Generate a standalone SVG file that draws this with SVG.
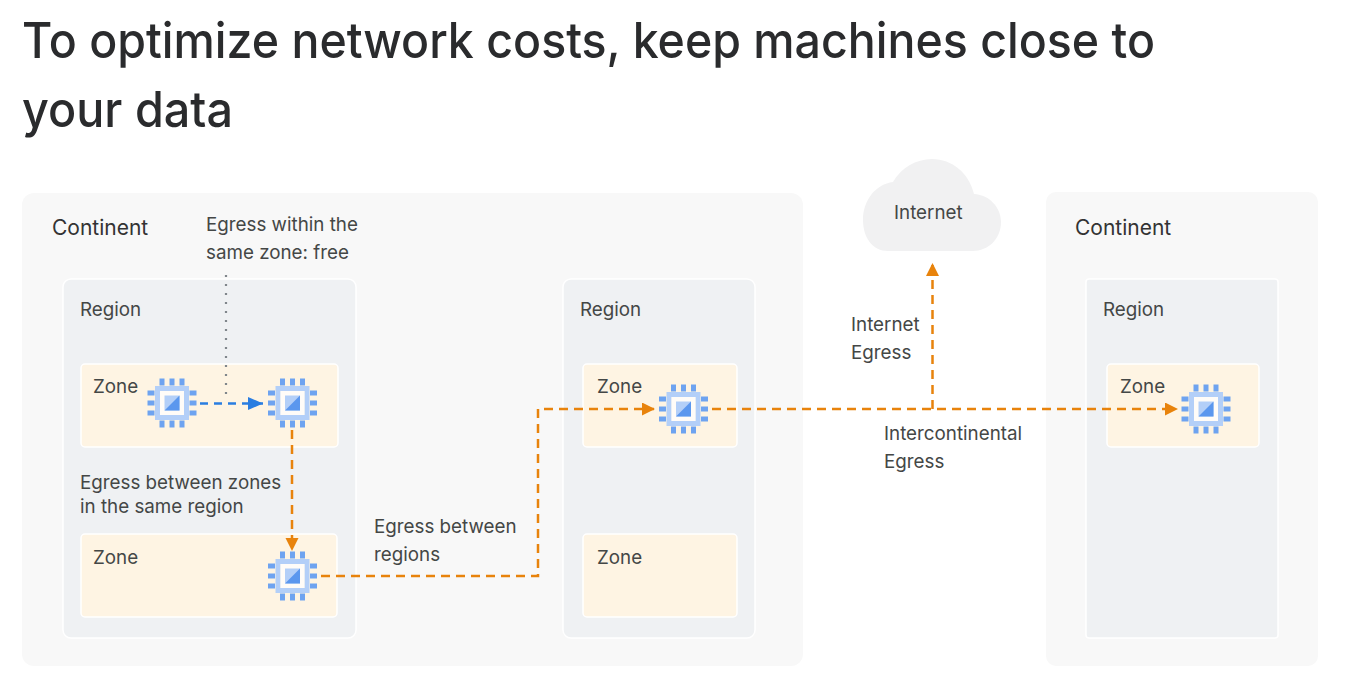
<svg xmlns="http://www.w3.org/2000/svg" width="1349" height="692" viewBox="0 0 1349 692">
<style>
text{font-family:"Inter","Noto Sans","Liberation Sans",sans-serif;fill:#444746;font-size:18.800px}
.title{font-size:50px;font-weight:500;fill:#2a2b2d}
.big{font-size:21px;fill:#333}
.cont{fill:#f8f8f8}
.reg{fill:#eff1f3;stroke:#fff;stroke-width:1.500}
.zone{fill:#fef4e3;stroke:#fff;stroke-width:1.500}
.o{fill:none;stroke:#e8830c;stroke-width:2.500;stroke-dasharray:9 6}
</style>
<defs>
<marker id="ao" markerUnits="userSpaceOnUse" markerWidth="14" markerHeight="14" refX="12" refY="6.500" orient="auto"><path d="M0 0L13 6.500L0 13Z" fill="#e8830c"/></marker>
<marker id="ab" markerUnits="userSpaceOnUse" markerWidth="16" markerHeight="14" refX="15" refY="6.500" orient="auto"><path d="M0 0L15 6.500L0 13Z" fill="#2a7de1"/></marker>
<g id="chip">
<path d="M-12.500-24.500h5v7h-5zM-2.500-24.500h5v7h-5zM7.500-24.500h5v7h-5zM-12.500 17.500h5v7h-5zM-2.500 17.500h5v7h-5zM7.500 17.500h5v7h-5zM-24.500-12.500h7v5h-7zM-24.500-2.500h7v5h-7zM-24.500 7.500h7v5h-7zM17.500-12.500h7v5h-7zM17.500-2.500h7v5h-7zM17.500 7.500h7v5h-7z" fill="#6ea3f0"/>
<path fill-rule="evenodd" d="M-17-17H17V17H-17ZM-12-12V12H12V-12Z" fill="#b3cff8"/>
<rect x="-12" y="-12" width="24" height="24" fill="#fff" fill-opacity=".75"/>
<rect x="-7.500" y="-7.500" width="15" height="15" fill="#b3cff8"/>
<path d="M7.500-7.500V7.500H-7.500Z" fill="#5b97ee"/>
</g>
</defs>
<g id="title">
<text class="title" x="22" y="58" textLength="1133" lengthAdjust="spacingAndGlyphs">To optimize network costs, keep machines close to</text>
<text class="title" x="22" y="127" textLength="211" lengthAdjust="spacingAndGlyphs">your data</text>
</g>
<g id="continent-1"><rect class="cont" x="22" y="193" width="781" height="473" rx="12"/><text class="big" x="52" y="235">Continent</text></g>
<g id="continent-2"><rect class="cont" x="1046" y="192" width="272" height="474" rx="10"/><text class="big" x="1075" y="235">Continent</text></g>
<g id="region-1"><rect class="reg" x="63" y="279" width="293" height="359" rx="8"/><text x="80" y="316">Region</text></g>
<g id="region-2"><rect class="reg" x="563" y="279" width="192" height="359" rx="8"/><text x="580" y="316">Region</text></g>
<g id="region-3"><rect class="reg" x="1086" y="279" width="192" height="359" rx="3"/><text x="1103" y="316">Region</text></g>
<g id="zone-1"><rect class="zone" x="81" y="364" width="257" height="83" rx="4"/><text x="93" y="393">Zone</text></g>
<g id="zone-2"><rect class="zone" x="81" y="534" width="256" height="83" rx="4"/><text x="93" y="564">Zone</text></g>
<g id="zone-3"><rect class="zone" x="583" y="364" width="154" height="83" rx="4"/><text x="597" y="393">Zone</text></g>
<g id="zone-4"><rect class="zone" x="583" y="534" width="154" height="83" rx="4"/><text x="597" y="564">Zone</text></g>
<g id="zone-5"><rect class="zone" x="1107" y="364" width="152" height="83" rx="4"/><text x="1120" y="393">Zone</text></g>
<g id="internet"><path d="M888 251C873 251 863 238 863 220C863 200 876 184 893 182C901 168 916 159 932 159C952 159 969 173 974 194C990 195 1001 208 1001 222C1001 239 988 251 973 251Z" fill="#f1f1f2"/><text x="894" y="219">Internet</text></g>
<g id="connectors">
<path d="M226 275V394" fill="none" stroke="#80868b" stroke-width="2.200" stroke-dasharray="2 7"/>
<path d="M200 403.500H263" fill="none" stroke="#2a7de1" stroke-width="2.500" stroke-dasharray="8 6" marker-end="url(#ab)"/>
<path class="o" d="M292 430V550" marker-end="url(#ao)"/>
<path class="o" d="M321 576H538V409H654" marker-end="url(#ao)"/>
<path class="o" d="M712 409H1177" marker-end="url(#ao)"/>
<path class="o" d="M932.500 409V264" marker-end="url(#ao)"/>
</g>
<g id="chips">
<use href="#chip" x="172" y="403"/>
<use href="#chip" x="292.500" y="403"/>
<use href="#chip" x="292.500" y="576"/>
<use href="#chip" x="683.500" y="409"/>
<use href="#chip" x="1206" y="409"/>
</g>
<g id="labels">
<text x="206" y="231">Egress within the</text><text x="206" y="259">same zone: free</text>
<text x="80" y="489">Egress between zones</text><text x="80" y="513">in the same region</text>
<text x="374" y="533">Egress between</text><text x="374" y="561">regions</text>
<text x="851" y="331">Internet</text><text x="851" y="359">Egress</text>
<text x="884" y="440">Intercontinental</text><text x="884" y="468">Egress</text>
</g>
</svg>
